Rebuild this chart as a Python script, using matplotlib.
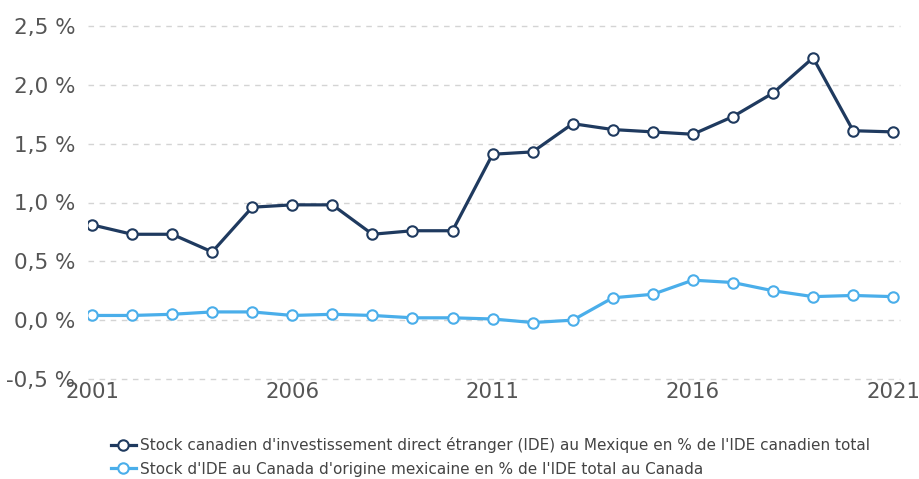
import matplotlib
matplotlib.use("Agg")
import matplotlib.pyplot as plt

years = list(range(2001, 2022))
ca_in_mx = [0.81, 0.73, 0.73, 0.58, 0.96, 0.98, 0.98, 0.73, 0.76, 0.76,
            1.41, 1.43, 1.67, 1.62, 1.60, 1.58, 1.73, 1.93, 2.23, 1.61, 1.60]
mx_in_ca = [0.04, 0.04, 0.05, 0.07, 0.07, 0.04, 0.05, 0.04, 0.02, 0.02,
            0.01, -0.02, 0.00, 0.19, 0.22, 0.34, 0.32, 0.25, 0.20, 0.21, 0.20]
labels = ["Stock canadien d'investissement direct étranger (IDE) au Mexique en % de l'IDE canadien total",
          "Stock d'IDE au Canada d'origine mexicaine en % de l'IDE total au Canada"]
y_ticks = [-0.5, 0.0, 0.5, 1.0, 1.5, 2.0, 2.5]
x_ticks = [2001, 2006, 2011, 2016, 2021]

dark = "#1f3a5f"
light = "#4aaeea"

plt.rcParams['font.family'] = ['DejaVu Sans']
fig = plt.figure(figsize=(9.2, 4.79), dpi=100)
ax = fig.add_axes([88/920, 100/479, 812/920, 353/479])

ax.plot(years, ca_in_mx, '-o', color=dark, lw=2.3, ms=7.5, mfc='white',
        mec=dark, mew=1.5, label=labels[0], zorder=3)
ax.plot(years, mx_in_ca, '-o', color=light, lw=2.3, ms=7.5, mfc='white',
        mec=light, mew=1.5, label=labels[1], zorder=3)

ax.set_xlim(2000.9, 2021.17)
ax.set_ylim(-0.5, 2.5)
ax.set_yticks(y_ticks)
ax.set_yticklabels([f"{v:.1f} %".replace('.', ',') for v in y_ticks])
ax.set_xticks(x_ticks)
ax.tick_params(axis='y', length=0, pad=9, labelsize=15.5, labelcolor='#555555')
ax.tick_params(axis='x', length=0, pad=2, labelsize=15.3, labelcolor='#555555')
ax.grid(axis='y', linestyle=(0, (4, 4)), color='#d4d4d4', lw=1)
for gl in ax.get_ygridlines():
    gl.set_clip_on(False)
ax.set_axisbelow(True)
for s in ax.spines.values():
    s.set_visible(False)

fig.legend(loc='upper left', bbox_to_anchor=(105/920, 1 - 431/479), frameon=False,
           fontsize=11, labelcolor='#444444', handlelength=1.6, handletextpad=0.3,
           labelspacing=0.55, borderaxespad=0)

fig.savefig("out.png", dpi=100)
